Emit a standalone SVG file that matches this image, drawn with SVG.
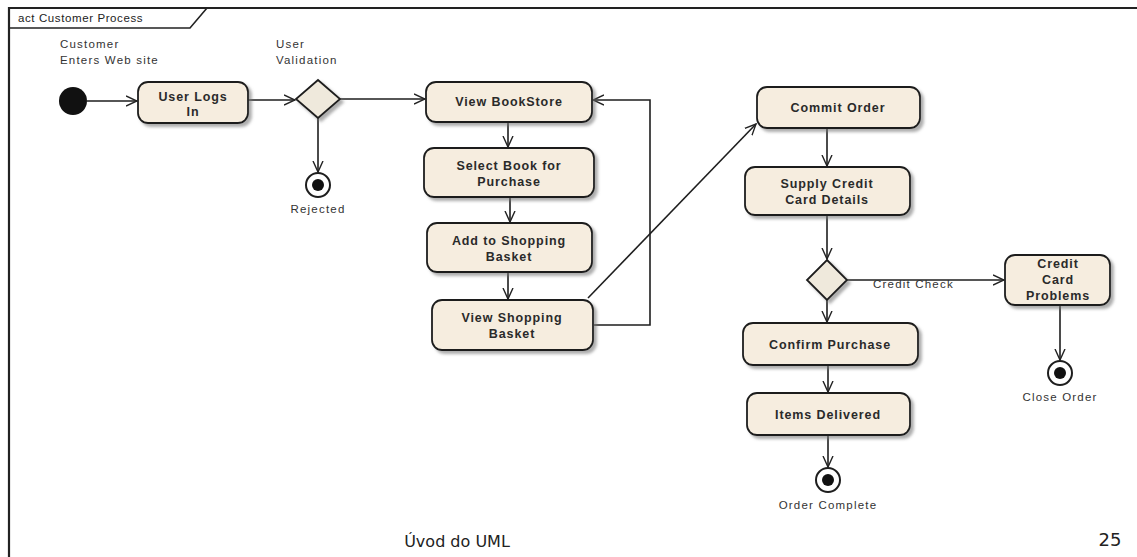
<svg xmlns="http://www.w3.org/2000/svg" width="1137" height="557" viewBox="0 0 1137 557">
<defs>
<marker id="arr" viewBox="0 0 12 12" refX="11" refY="6" markerWidth="12" markerHeight="12" markerUnits="userSpaceOnUse" orient="auto">
<path d="M0,1 L11,6 L0,11" fill="none" stroke="#222" stroke-width="1.4"/>
</marker>
<filter id="sh" x="-10%" y="-10%" width="130%" height="140%">
<feDropShadow dx="3" dy="3" stdDeviation="1.5" flood-color="#777" flood-opacity="0.6"/>
</filter>
</defs>
<style>
.act{fill:#f6eddf;stroke:#1e1e1e;stroke-width:1.8;filter:url(#sh)}
.dec{fill:#efe9dc;stroke:#1e1e1e;stroke-width:1.8;filter:url(#sh)}
.t{font-family:"Liberation Sans",Arial,sans-serif;font-size:12.5px;font-weight:bold;fill:#2a2a2a;text-anchor:middle;letter-spacing:0.9px}
.l{font-family:"Liberation Sans",Arial,sans-serif;font-size:11.5px;fill:#333;letter-spacing:1.2px}
.c{stroke:#1e1e1e;stroke-width:1.6;fill:none;marker-end:url(#arr)}
.fo{fill:#fff;stroke:#1e1e1e;stroke-width:2}
.fi{fill:#111}
</style>
<rect width="1137" height="557" fill="#fff"/>
<g id="frame">
<path d="M9,557 V8 H1137" fill="none" stroke="#222" stroke-width="2.2"/>
<path d="M9,28 H190 L207,8" fill="none" stroke="#222" stroke-width="1.6"/>
<text x="18" y="22" class="l" style="letter-spacing:0.6px;fill:#222">act Customer Process</text>
</g>
<g id="connectors">
<path class="c" d="M87,101 H137"/>
<path class="c" d="M248,100 H295"/>
<path class="c" d="M318,118 V172"/>
<path class="c" d="M340,99 H425"/>
<path class="c" d="M508,122 V147"/>
<path class="c" d="M510,197 V222"/>
<path class="c" d="M508,272 V299"/>
<path class="c" d="M594,325 H650 V100 H593"/>
<path class="c" d="M588,298 L756,124"/>
<path class="c" d="M827,128 V166"/>
<path class="c" d="M827,215 V259"/>
<path class="c" d="M847,280 H1004"/>
<path class="c" d="M827,300 V322"/>
<path class="c" d="M828,365 V392"/>
<path class="c" d="M828,435 V467"/>
<path class="c" d="M1060,305 V360"/>
</g>
<g id="start">
<circle cx="73" cy="101" r="14" fill="#111"/>
<text x="60" y="48" class="l">Customer</text>
<text x="60" y="64" class="l">Enters Web site</text>
</g>
<g id="userLogsIn">
<rect class="act" x="138" y="82" width="110" height="41" rx="10"/>
<text x="193" y="101" class="t">User Logs</text>
<text x="193" y="116" class="t">In</text>
</g>
<g id="userValidation">
<path class="dec" d="M318,80 L340,99 L318,118 L296,99 Z"/>
<text x="276" y="48" class="l">User</text>
<text x="276" y="64" class="l">Validation</text>
</g>
<g id="rejected">
<circle class="fo" cx="318" cy="185" r="12"/>
<circle class="fi" cx="318" cy="185" r="6"/>
<text x="318" y="213" class="l" text-anchor="middle">Rejected</text>
</g>
<g id="viewBookStore">
<rect class="act" x="426" y="82" width="166" height="40" rx="10"/>
<text x="509" y="106" class="t">View BookStore</text>
</g>
<g id="selectBook">
<rect class="act" x="424" y="148" width="170" height="49" rx="10"/>
<text x="509" y="170" class="t">Select Book for</text>
<text x="509" y="186" class="t">Purchase</text>
</g>
<g id="addToBasket">
<rect class="act" x="427" y="223" width="165" height="49" rx="10"/>
<text x="509" y="245" class="t">Add to Shopping</text>
<text x="509" y="261" class="t">Basket</text>
</g>
<g id="viewBasket">
<rect class="act" x="432" y="300" width="161" height="50" rx="10"/>
<text x="512" y="322" class="t">View Shopping</text>
<text x="512" y="338" class="t">Basket</text>
</g>
<g id="commitOrder">
<rect class="act" x="757" y="87" width="163" height="41" rx="10"/>
<text x="838" y="112" class="t">Commit Order</text>
</g>
<g id="supplyCard">
<rect class="act" x="745" y="167" width="165" height="48" rx="10"/>
<text x="827" y="188" class="t">Supply Credit</text>
<text x="827" y="204" class="t">Card Details</text>
</g>
<g id="creditCheck">
<path class="dec" d="M827,260 L847,280 L827,300 L807,280 Z"/>
<text x="873" y="288" class="l">Credit Check</text>
</g>
<g id="cardProblems">
<rect class="act" x="1005" y="255" width="105" height="50" rx="10"/>
<text x="1058" y="268" class="t">Credit</text>
<text x="1058" y="284" class="t">Card</text>
<text x="1058" y="300" class="t">Problems</text>
</g>
<g id="closeOrder">
<circle class="fo" cx="1060" cy="373" r="12"/>
<circle class="fi" cx="1060" cy="373" r="6"/>
<text x="1060" y="401" class="l" text-anchor="middle">Close Order</text>
</g>
<g id="confirmPurchase">
<rect class="act" x="743" y="323" width="175" height="42" rx="10"/>
<text x="830" y="349" class="t">Confirm Purchase</text>
</g>
<g id="itemsDelivered">
<rect class="act" x="747" y="393" width="163" height="42" rx="10"/>
<text x="828" y="419" class="t">Items Delivered</text>
</g>
<g id="orderComplete">
<circle class="fo" cx="828" cy="480" r="12"/>
<circle class="fi" cx="828" cy="480" r="6"/>
<text x="828" y="509" class="l" text-anchor="middle">Order Complete</text>
</g>
<g id="footer">
<text x="457" y="547" font-family="DejaVu Sans, sans-serif" font-size="16" fill="#222" text-anchor="middle">Úvod do UML</text>
<text x="1110" y="546" font-family="DejaVu Sans, sans-serif" font-size="18" fill="#222" text-anchor="middle">25</text>
</g>
</svg>
